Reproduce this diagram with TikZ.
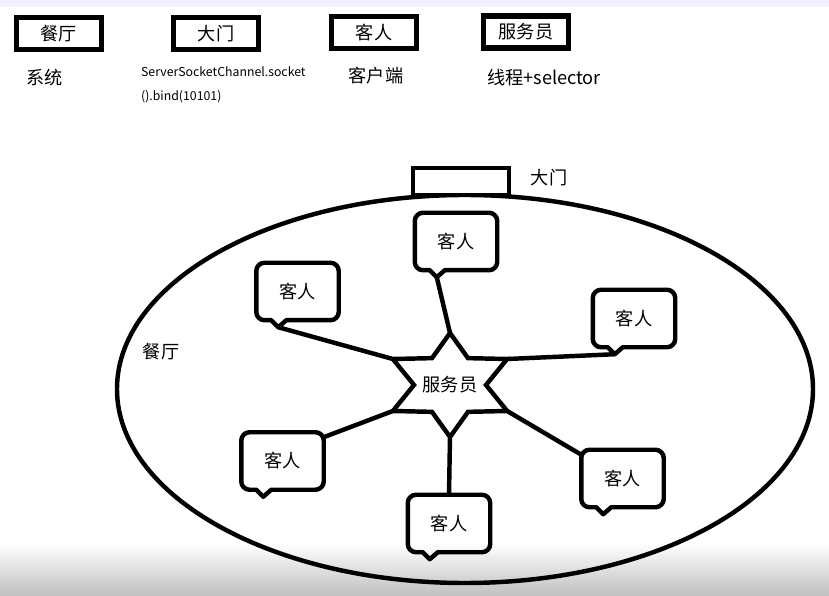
\documentclass[tikz,border=0pt]{standalone}
\usepackage{fontspec}
\newfontfamily\cjk{Noto Sans CJK SC}
\usetikzlibrary{shapes.geometric, calc}

\newcommand{\bubble}[1]{%
  \draw[bubbleline] ($(#1.south west)+(30,0)$) [rounded corners=7pt] -- (#1.south east) -- (#1.north east) -- (#1.north west) -- (#1.south west) [sharp corners] -- ($(#1.south west)+(15,0)$) -- ++(7,7) coordinate (#1-tip) -- cycle;}

\begin{document}
\begin{tikzpicture}[x=0.03cm, y=-0.03cm, line width=3.8pt,
  every node/.style={font=\cjk\fontsize{15.5}{18}\selectfont},
  legend/.style={draw, line width=4.4pt, minimum width=2.55cm, minimum height=0.96cm, inner sep=0pt},
  guest/.style={minimum width=2.34cm, minimum height=1.59cm, inner sep=0pt},
  bubbleline/.style={line width=3.8pt, line join=round},
  starline/.style={line width=3.8pt, line join=miter}]

\useasboundingbox (0,0) rectangle (829,596);
\fill[white] (0,0) rectangle (829,596);
\fill[blue!6!white] (0,0) rectangle (829,7);
\shade[top color=white, bottom color=black!25] (0,543) rectangle (829,596);

% legend
\node (box1) at (59, 33.5)  [legend] {餐厅};
\node (box2) at (216, 33.5) [legend] {大门};
\node (box3) at (374, 32.5) [legend] {客人};
\node (box4) at (526, 32)   [legend] {服务员};

\node (note1) at (45, 78) {系统};
\node (note2) at (135, 61) [anchor=north west, align=left, font=\cjk\fontsize{10.5}{20.5}\selectfont] {ServerSocketChannel.socket\\().bind(10101)};
\node (note3) at (376, 76) {客户端};
\node (note4) at (481, 78) [anchor=west] {线程+selector};

% restaurant
\node (hall) at (465, 389) [draw, ellipse, minimum width=20.88cm, minimum height=11.64cm, inner sep=0pt] {};
\node (door) at (461, 181.5) [draw, fill=white, minimum width=2.88cm, minimum height=0.81cm, inner sep=0pt] {};
\node (doorlabel) at (549, 178) {大门};
\node (halllabel) at (161, 352) {餐厅};

% guests
\node (g1) at (456, 241.5) [guest] {客人};
\node (g2) at (297.5, 291.5) [guest] {客人};
\node (g3) at (634, 318.5) [guest] {客人};
\node (g4) at (282.5, 461) [guest] {客人};
\node (g5) at (449, 523.5) [guest] {客人};
\node (g6) at (622.5, 478.5) [guest] {客人};
\bubble{g1}
\bubble{g2}
\bubble{g3}
\bubble{g4}
\bubble{g5}
\bubble{g6}

% waiter
\node (hub) at (450, 385) {服务员};
\foreach \i/\a in {1/-90, 2/-150, 3/150, 4/90, 5/30, 6/-30} {
  \coordinate (hub-o\i) at ($(hub.center)+({66*cos(\a)},{52*sin(\a)})$);
  \coordinate (hub-i\i) at ($(hub.center)+({36*cos(\a-30)},{31*sin(\a-30)})$);
}
\draw[starline] (hub-o1) -- (hub-i1) -- (hub-o2) -- (hub-i2) -- (hub-o3) -- (hub-i3) -- (hub-o4) -- (hub-i4) -- (hub-o5) -- (hub-i5) -- (hub-o6) -- (hub-i6) -- cycle;

\draw (g1-tip) -- (hub-o1);
\draw (g2-tip) -- (hub-o2);
\draw (g4.30)  -- (hub-o3);
\draw (g5.north) -- (hub-o4);
\draw (g6.150) -- (hub-o5);
\draw (g3-tip) -- (hub-o6);

\end{tikzpicture}
\end{document}
